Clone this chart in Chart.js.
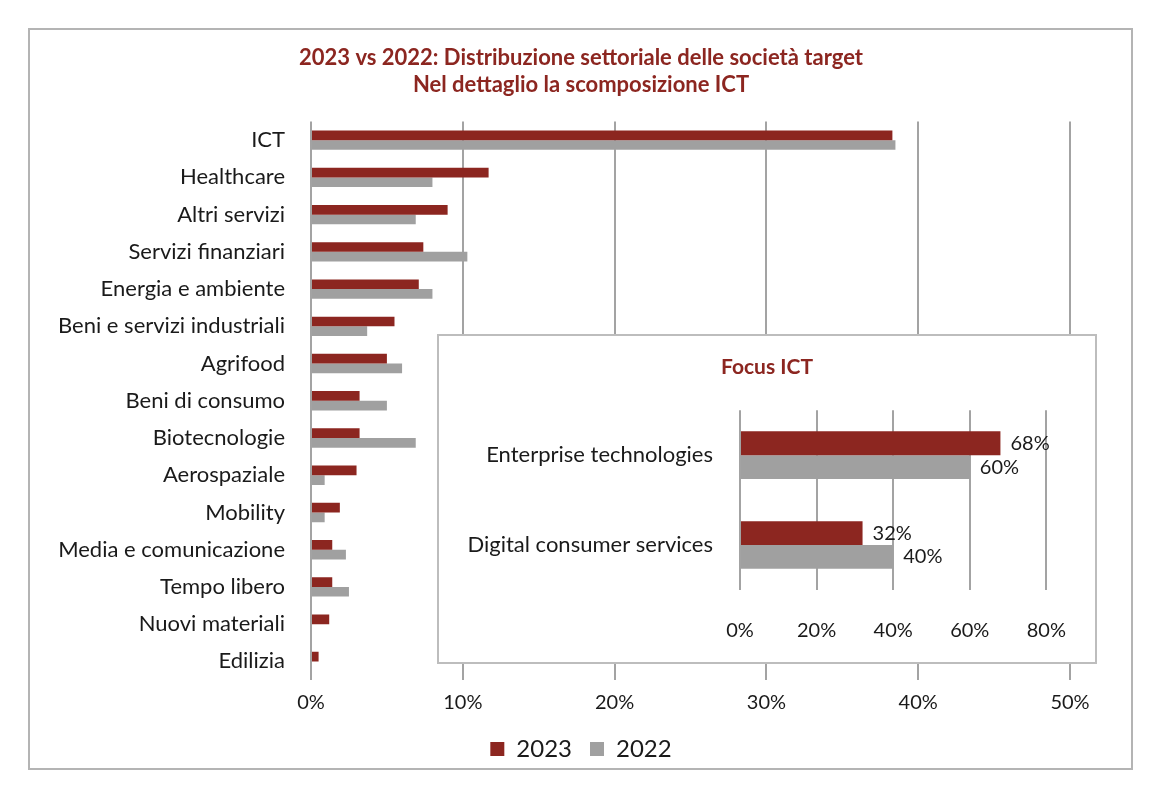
<!DOCTYPE html>
<html>
<head>
<meta charset="utf-8">
<script src="https://cdn.jsdelivr.net/npm/chart.js@4.4.1/dist/chart.umd.min.js"></script>
<style>
  body { margin: 0; background: #fff; }
  #wrap { position: relative; width: 1162px; height: 794px; }
  #cornice { position: absolute; left: 28px; top: 28px; width: 1105px; height: 742px; border: 2px solid #b4b4b4; box-sizing: border-box; }
  #principale { position: absolute; left: 0; top: 0; }
  #riquadro { position: absolute; left: 437px; top: 334px; width: 660px; height: 330px; border: 2px solid #bdbdbd; box-sizing: border-box; background: #fff; }
</style>
</head>
<body>
<div id="wrap">
  <div id="cornice"></div>
  <canvas id="principale" width="1162" height="794"></canvas>
  <div id="riquadro"><canvas id="focus" width="656" height="326"></canvas></div>
</div>
<script>
// dati
const settori = ['ICT', 'Healthcare', 'Altri servizi', 'Servizi finanziari', 'Energia e ambiente',
  'Beni e servizi industriali', 'Agrifood', 'Beni di consumo', 'Biotecnologie', 'Aerospaziale',
  'Mobility', 'Media e comunicazione', 'Tempo libero', 'Nuovi materiali', 'Edilizia'];
const valori2023 = [38.3, 11.7, 9.0, 7.4, 7.1, 5.5, 5.0, 3.2, 3.2, 3.0, 1.9, 1.4, 1.4, 1.2, 0.5];
const valori2022 = [38.5, 8.0, 6.9, 10.3, 8.0, 3.7, 6.0, 5.0, 6.9, 0.9, 0.9, 2.3, 2.5, 0, 0];
const tickPrincipali = [0, 10, 20, 30, 40, 50];

const categorieIct = ['Enterprise technologies', 'Digital consumer services'];
const ict2023 = [68, 32];
const ict2022 = [60, 40];
const tickFocus = [0, 20, 40, 60, 80];

const ROSSO = '#8c2620';
const GRIGIO = '#a0a0a0';
const GRIGLIA = '#a3a3a3';
const FONT = 'Lato';

// etichette dei valori sulle barre del riquadro
const etichetteValori = {
  id: 'etichetteValori',
  afterDatasetsDraw(chart) {
    const ctx = chart.ctx;
    ctx.save();
    ctx.font = '20px ' + FONT;
    ctx.fillStyle = '#1a1a1a';
    ctx.textAlign = 'left';
    ctx.textBaseline = 'middle';
    chart.data.datasets.forEach((ds, i) => {
      chart.getDatasetMeta(i).data.forEach((bar, j) => {
        ctx.fillText(ds.data[j] + '%', bar.x + 10, bar.y);
      });
    });
    ctx.restore();
  }
};

// titolo e legenda centrati su tutta la larghezza del canvas
const centraSuCanvas = {
  id: 'centraSuCanvas',
  beforeDraw(chart) {
    [chart.titleBlock, chart.legend].forEach(b => {
      if (b) { b.left = 0; b.right = chart.width; b.width = chart.width; }
    });
  }
};

new Chart(document.getElementById('principale'), {
  type: 'bar',
  data: {
    labels: settori,
    datasets: [
      { label: '2023', data: valori2023, backgroundColor: ROSSO },
      { label: '2022', data: valori2022, backgroundColor: GRIGIO }
    ]
  },
  options: {
    indexAxis: 'y',
    responsive: false,
    animation: false,
    categoryPercentage: 0.52,
    barPercentage: 1,
    layout: { padding: { left: 0, right: 92, top: 0, bottom: 23 } },
    plugins: {
      title: {
        display: true,
        text: ['2023 vs 2022: Distribuzione settoriale delle società target', 'Nel dettaglio la scomposizione ICT'],
        color: ROSSO,
        font: { family: FONT, size: 22, weight: 'bold', lineHeight: 1.24 },
        padding: { top: 44, bottom: 23 }
      },
      legend: {
        position: 'bottom',
        labels: {
          color: '#1a1a1a',
          font: { family: FONT, size: 24 },
          boxWidth: 14, boxHeight: 14, padding: 18
        }
      },
      tooltip: { enabled: false }
    },
    scales: {
      x: {
        min: 0, max: 50,
        afterBuildTicks(scale) { scale.ticks = tickPrincipali.map(v => ({ value: v })); },
        afterFit(scale) { scale.height = 39; },
        grid: { color: GRIGLIA, lineWidth: 2, drawTicks: false },
        border: { display: false },
        ticks: { color: '#1a1a1a', font: { family: FONT, size: 20 }, padding: 11, callback: v => v + '%' }
      },
      y: {
        afterFit(scale) { scale.width = 311; },
        grid: { display: false, drawTicks: false },
        border: { display: false },
        ticks: { color: '#1a1a1a', font: { family: FONT, size: 22 }, padding: 26, autoSkip: false }
      }
    }
  },
  plugins: [centraSuCanvas]
});

new Chart(document.getElementById('focus'), {
  type: 'bar',
  data: {
    labels: categorieIct,
    datasets: [
      { label: '2023', data: ict2023, backgroundColor: ROSSO },
      { label: '2022', data: ict2022, backgroundColor: GRIGIO }
    ]
  },
  options: {
    indexAxis: 'y',
    responsive: false,
    animation: false,
    categoryPercentage: 0.53,
    barPercentage: 1,
    layout: { padding: { left: 0, right: 48, top: 0, bottom: 0 } },
    plugins: {
      title: {
        display: true,
        text: 'Focus ICT',
        color: ROSSO,
        font: { family: FONT, size: 21, weight: 'bold' },
        padding: { top: 19, bottom: 30 }
      },
      legend: { display: false },
      tooltip: { enabled: false }
    },
    scales: {
      x: {
        min: 0, max: 80,
        afterBuildTicks(scale) { scale.ticks = tickFocus.map(v => ({ value: v })); },
        afterFit(scale) { scale.height = 72; },
        grid: { color: GRIGLIA, lineWidth: 2, drawTicks: false },
        border: { display: false },
        ticks: { color: '#1a1a1a', font: { family: FONT, size: 20 }, padding: 29, callback: v => v + '%' }
      },
      y: {
        afterFit(scale) { scale.width = 301; },
        grid: { display: false, drawTicks: false },
        border: { display: false },
        ticks: { color: '#1a1a1a', font: { family: FONT, size: 22 }, padding: 27 }
      }
    }
  },
  plugins: [etichetteValori, centraSuCanvas]
});
</script>
</body>
</html>
